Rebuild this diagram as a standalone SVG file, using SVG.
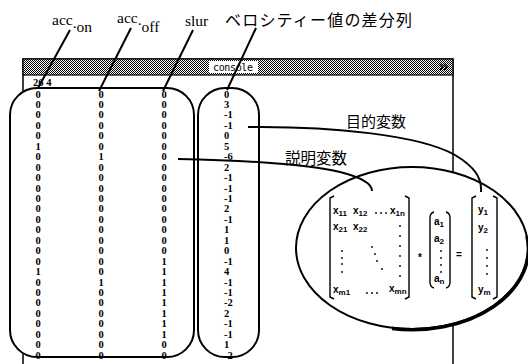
<svg xmlns="http://www.w3.org/2000/svg" width="528" height="364" viewBox="0 0 528 364">
<defs>
<pattern id="stip" width="2" height="2" patternUnits="userSpaceOnUse"><rect width="2" height="2" fill="#fff"/><rect width="1" height="1" fill="#000"/><rect x="1" y="1" width="1" height="1" fill="#000"/></pattern>
<style>
.lbl{font-family:"Liberation Serif",serif;font-size:15.5px;fill:#000}
.jp{font-family:"Noto Sans CJK JP","Noto Sans CJK SC",sans-serif;fill:#000}
.num{font-family:"Liberation Serif",serif;font-size:10.5px;font-weight:bold;fill:#000}
.mid{text-anchor:middle}
.box{fill:#fff;stroke:#000;stroke-width:2}
.mx{font-family:"Liberation Sans",Arial,sans-serif;font-size:10px;font-weight:bold;fill:#000}
.sub{font-size:8px}
.br{fill:none;stroke:#000;stroke-width:1.4}
.ln{fill:none;stroke:#000;stroke-width:2}
.dot{fill:#000}
</style>
</defs>
<rect width="528" height="364" fill="#fff"/>

<g id="console-window">
<rect x="23" y="59" width="430" height="330" fill="#fff" stroke="#000" stroke-width="1.5"/>
<rect x="23" y="59" width="430" height="16" fill="url(#stip)" stroke="#000" stroke-width="1.2"/>
<rect x="209" y="61" width="49" height="12" fill="#fff"/>
<text x="213" y="71" font-family="'DejaVu Sans Mono',monospace" font-size="10" textLength="40">console</text>
<path d="M440,64 L443,67 L440,70 M444,64 L447,67 L444,70" fill="none" stroke="#000" stroke-width="1.5"/>
<text x="33" y="86" class="num">26 4</text>
</g>

<g id="labels">
<text class="lbl" x="52" y="25">acc<tspan dy="3">.</tspan><tspan dy="4">on</tspan></text>
<text class="lbl" x="117" y="23">acc<tspan dy="2">.</tspan><tspan dy="7">off</tspan></text>
<text class="lbl" x="185" y="26">slur</text>
<text class="jp" x="225" y="26" font-size="16" textLength="187">ベロシティー値の差分列</text>
<text class="jp" x="346" y="127" font-size="15">目的変数</text>
<text class="jp" x="285" y="164" font-size="15.5">説明変数</text>
</g>

<g id="explanatory-box">
<rect class="box" x="10" y="88" width="184" height="269" rx="27" ry="27"/>
<text class="num mid"><tspan x="38" y="97.5">0</tspan><tspan x="38" dy="10.45">0</tspan><tspan x="38" dy="10.45">0</tspan><tspan x="38" dy="10.45">0</tspan><tspan x="38" dy="10.45">0</tspan><tspan x="38" dy="10.45">1</tspan><tspan x="38" dy="10.45">0</tspan><tspan x="38" dy="10.45">0</tspan><tspan x="38" dy="10.45">0</tspan><tspan x="38" dy="10.45">0</tspan><tspan x="38" dy="10.45">0</tspan><tspan x="38" dy="10.45">0</tspan><tspan x="38" dy="10.45">0</tspan><tspan x="38" dy="10.45">0</tspan><tspan x="38" dy="10.45">0</tspan><tspan x="38" dy="10.45">0</tspan><tspan x="38" dy="10.45">0</tspan><tspan x="38" dy="10.45">1</tspan><tspan x="38" dy="10.45">0</tspan><tspan x="38" dy="10.45">0</tspan><tspan x="38" dy="10.45">0</tspan><tspan x="38" dy="10.45">0</tspan><tspan x="38" dy="10.45">0</tspan><tspan x="38" dy="10.45">0</tspan><tspan x="38" dy="10.45">0</tspan><tspan x="38" dy="10.45">0</tspan></text>
<text class="num mid"><tspan x="101" y="97.5">0</tspan><tspan x="101" dy="10.45">0</tspan><tspan x="101" dy="10.45">0</tspan><tspan x="101" dy="10.45">0</tspan><tspan x="101" dy="10.45">0</tspan><tspan x="101" dy="10.45">0</tspan><tspan x="101" dy="10.45">1</tspan><tspan x="101" dy="10.45">0</tspan><tspan x="101" dy="10.45">0</tspan><tspan x="101" dy="10.45">0</tspan><tspan x="101" dy="10.45">0</tspan><tspan x="101" dy="10.45">0</tspan><tspan x="101" dy="10.45">0</tspan><tspan x="101" dy="10.45">0</tspan><tspan x="101" dy="10.45">0</tspan><tspan x="101" dy="10.45">0</tspan><tspan x="101" dy="10.45">0</tspan><tspan x="101" dy="10.45">0</tspan><tspan x="101" dy="10.45">1</tspan><tspan x="101" dy="10.45">0</tspan><tspan x="101" dy="10.45">0</tspan><tspan x="101" dy="10.45">0</tspan><tspan x="101" dy="10.45">0</tspan><tspan x="101" dy="10.45">0</tspan><tspan x="101" dy="10.45">0</tspan><tspan x="101" dy="10.45">0</tspan></text>
<text class="num mid"><tspan x="164" y="97.5">0</tspan><tspan x="164" dy="10.45">0</tspan><tspan x="164" dy="10.45">0</tspan><tspan x="164" dy="10.45">0</tspan><tspan x="164" dy="10.45">0</tspan><tspan x="164" dy="10.45">0</tspan><tspan x="164" dy="10.45">0</tspan><tspan x="164" dy="10.45">0</tspan><tspan x="164" dy="10.45">0</tspan><tspan x="164" dy="10.45">0</tspan><tspan x="164" dy="10.45">0</tspan><tspan x="164" dy="10.45">0</tspan><tspan x="164" dy="10.45">0</tspan><tspan x="164" dy="10.45">0</tspan><tspan x="164" dy="10.45">0</tspan><tspan x="164" dy="10.45">0</tspan><tspan x="164" dy="10.45">1</tspan><tspan x="164" dy="10.45">1</tspan><tspan x="164" dy="10.45">1</tspan><tspan x="164" dy="10.45">1</tspan><tspan x="164" dy="10.45">1</tspan><tspan x="164" dy="10.45">1</tspan><tspan x="164" dy="10.45">1</tspan><tspan x="164" dy="10.45">1</tspan><tspan x="164" dy="10.45">0</tspan><tspan x="164" dy="10.45">0</tspan></text>
</g>

<g id="target-box">
<rect class="box" x="198" y="88" width="61" height="269" rx="27" ry="27"/>
<text class="num"><tspan x="224" y="97.5">0</tspan><tspan x="224" dy="10.45">3</tspan><tspan x="224" dy="10.45">-1</tspan><tspan x="224" dy="10.45">-1</tspan><tspan x="224" dy="10.45">0</tspan><tspan x="224" dy="10.45">5</tspan><tspan x="224" dy="10.45">-6</tspan><tspan x="224" dy="10.45">2</tspan><tspan x="224" dy="10.45">-1</tspan><tspan x="224" dy="10.45">-1</tspan><tspan x="224" dy="10.45">-1</tspan><tspan x="224" dy="10.45">2</tspan><tspan x="224" dy="10.45">-1</tspan><tspan x="224" dy="10.45">1</tspan><tspan x="224" dy="10.45">1</tspan><tspan x="224" dy="10.45">0</tspan><tspan x="224" dy="10.45">-1</tspan><tspan x="224" dy="10.45">4</tspan><tspan x="224" dy="10.45">-1</tspan><tspan x="224" dy="10.45">-1</tspan><tspan x="224" dy="10.45">-2</tspan><tspan x="224" dy="10.45">2</tspan><tspan x="224" dy="10.45">-1</tspan><tspan x="224" dy="10.45">-1</tspan><tspan x="224" dy="10.45">1</tspan><tspan x="224" dy="10.45">-2</tspan></text>
</g>

<g id="regression-equation">
<ellipse cx="412" cy="248" rx="116" ry="81" fill="#fff" stroke="#000" stroke-width="2"/>
<path d="M527,236 A116,81 0 0 1 392,328.5" fill="none" stroke="#000" stroke-width="3.5"/>
<path class="br" d="M334,196 L330,198 L330,297 L334,299 M405,196 L409,198 L409,297 L405,299"/>
<text class="mx" x="333" y="214">x<tspan class="sub" dy="2">11</tspan></text>
<text class="mx" x="353" y="214">x<tspan class="sub" dy="2">12</tspan></text>
<circle class="dot" cx="376" cy="213" r="0.9"/><circle class="dot" cx="381" cy="213" r="0.9"/><circle class="dot" cx="386" cy="213" r="0.9"/>
<text class="mx" x="390" y="214">x<tspan class="sub" dy="2">1n</tspan></text>
<text class="mx" x="333" y="230">x<tspan class="sub" dy="2">21</tspan></text>
<text class="mx" x="353" y="230">x<tspan class="sub" dy="2">22</tspan></text>
<circle class="dot" cx="400" cy="226" r="0.9"/><circle class="dot" cx="400" cy="236" r="0.9"/><circle class="dot" cx="400" cy="246" r="0.9"/><circle class="dot" cx="400" cy="256" r="0.9"/><circle class="dot" cx="400" cy="266" r="0.9"/><circle class="dot" cx="400" cy="276" r="0.9"/>
<circle class="dot" cx="342" cy="251" r="0.9"/><circle class="dot" cx="342" cy="258" r="0.9"/><circle class="dot" cx="342" cy="264" r="0.9"/><circle class="dot" cx="342" cy="272" r="0.9"/>
<circle class="dot" cx="372" cy="247" r="0.9"/><circle class="dot" cx="375" cy="254" r="0.9"/><circle class="dot" cx="377" cy="261" r="0.9"/><circle class="dot" cx="382" cy="269" r="0.9"/>
<text class="mx" x="333" y="293">x<tspan class="sub" dy="2">m1</tspan></text>
<circle class="dot" cx="367" cy="293" r="0.9"/><circle class="dot" cx="372" cy="293" r="0.9"/><circle class="dot" cx="377" cy="293" r="0.9"/>
<text class="mx" x="389" y="292">x<tspan class="sub" dy="2">mn</tspan></text>
<text class="mx" x="418" y="261" font-size="14">*</text>
<path class="br" d="M434,212 Q430,213 430,218 L430,282 Q430,287 434,288 M446,212 Q450,213 450,218 L450,282 Q450,287 446,288"/>
<text class="mx" x="434" y="225">a<tspan class="sub" dy="2">1</tspan></text>
<text class="mx" x="434" y="242">a<tspan class="sub" dy="2">2</tspan></text>
<circle class="dot" cx="441" cy="251" r="0.9"/><circle class="dot" cx="441" cy="258" r="0.9"/><circle class="dot" cx="441" cy="265" r="0.9"/><circle class="dot" cx="441" cy="272" r="0.9"/>
<text class="mx" x="434" y="282">a<tspan class="sub" dy="2">n</tspan></text>
<text class="mx" x="456" y="258" font-size="12">=</text>
<path class="br" d="M476,196 L472,198 L472,297 L476,299 M493,196 L497,198 L497,297 L493,299"/>
<text class="mx" x="478" y="213">y<tspan class="sub" dy="2">1</tspan></text>
<text class="mx" x="478" y="231">y<tspan class="sub" dy="2">2</tspan></text>
<circle class="dot" cx="487" cy="250" r="0.9"/><circle class="dot" cx="487" cy="258" r="0.9"/><circle class="dot" cx="487" cy="266" r="0.9"/><circle class="dot" cx="487" cy="274" r="0.9"/>
<text class="mx" x="478" y="293">y<tspan class="sub" dy="2">m</tspan></text>
</g>

<g id="connectors">
<path class="ln" d="M70,30 L38,88"/>
<path class="ln" d="M131,28 L99,91"/>
<path class="ln" d="M193,30 L163,91"/>
<path class="ln" d="M256,28 L227,90"/>
<path class="ln" d="M248,127 C 330,126 420,135 455,155 C 475,167 482,178 481,192"/>
<path class="ln" d="M178,159 C 230,160 300,163 340,172 C 360,177 372,183 372,191"/>
</g>
</svg>
